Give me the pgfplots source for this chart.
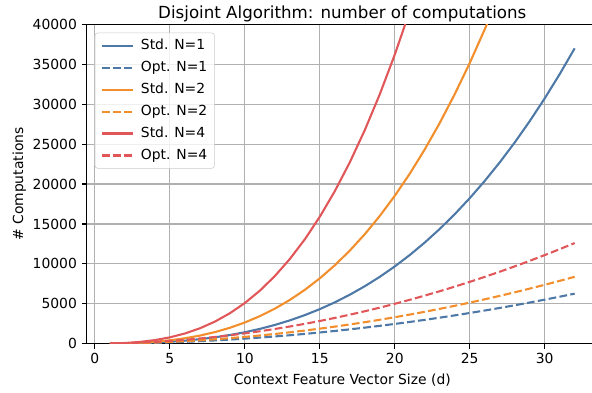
\documentclass[border=0pt]{standalone}
\usepackage{fontspec}
\setmainfont{DejaVu Sans}
\usepackage{pgfplots}
\pgfplotsset{compat=1.18}
\definecolor{tblue}{HTML}{4E79A7}
\definecolor{torange}{HTML}{F28E2B}
\definecolor{tred}{HTML}{E15759}
\definecolor{gridgray}{HTML}{B0B0B0}
\begin{document}
\begin{tikzpicture}
\begin{axis}[
  scale only axis,
  width=368.1pt, height=230pt,
  at={(0,0)}, anchor=south west,
  xmin=-0.55, xmax=33.55,
  ymin=0, ymax=40000,
  xtick={0,5,10,15,20,25,30},
  ytick={0,5000,10000,15000,20000,25000,30000,35000,40000},
  scaled y ticks=false,
  /pgf/number format/set thousands separator={},
  /pgf/number format/assume math mode=true,
  tick label style={font=\fontsize{10}{12}\selectfont},
  tick align=outside,
  major tick length=3.5pt,
  every tick/.style={black, line width=0.8pt},
  axis line style={line width=0.8pt},
  grid=major,
  major grid style={gridgray, line width=0.8pt},
  xtick pos=bottom, ytick pos=left,
  title={Disjoint Algorithm: number of computations},
  title style={font=\fontsize{12}{14}\selectfont, yshift=-8pt},
  xlabel={Context Feature Vector Size (d)},
  ylabel={\# Computations},
  label style={font=\fontsize{10}{12}\selectfont},
  ylabel style={yshift=-2pt},
  legend cell align=left,
  legend style={at={(axis cs:-0.55,40000)}, anchor=north west, xshift=5.8pt, yshift=-6pt,
    draw=black!20, rounded corners=2pt, fill=white, fill opacity=0.8, text opacity=1,
    font=\fontsize{10}{12}\selectfont,
    inner xsep=4.5pt, inner ysep=3.5pt,
    row sep=4.3pt,
    /tikz/every odd column/.append style={column sep=4.5pt},
    nodes={inner sep=0.6pt, text height=8pt, text depth=2.3pt}},
  legend image code/.code={\draw[#1] (0pt,0pt) -- (22pt,0pt);},
  every axis plot/.append style={line width=1.5pt},
  dashed/.style={dash pattern=on 5.55pt off 2.4pt},
]
\addplot[tblue] coordinates {(1,9)(2,32)(3,75)(4,144)(5,245)(6,384)(7,567)(8,800)(9,1089)(10,1440)(11,1859)(12,2352)(13,2925)(14,3584)(15,4335)(16,5184)(17,6137)(18,7200)(19,8379)(20,9680)(21,11109)(22,12672)(23,14375)(24,16224)(25,18225)(26,20384)(27,22707)(28,25200)(29,27869)(30,30720)(31,33759)(32,36992)};
\addlegendentry{Std. N=1}
\addplot[tblue, dashed] coordinates {(1,10)(2,32)(3,66)(4,112)(5,170)(6,240)(7,322)(8,416)(9,522)(10,640)(11,770)(12,912)(13,1066)(14,1232)(15,1410)(16,1600)(17,1802)(18,2016)(19,2242)(20,2480)(21,2730)(22,2992)(23,3266)(24,3552)(25,3850)(26,4160)(27,4482)(28,4816)(29,5162)(30,5520)(31,5890)(32,6272)};
\addlegendentry{Opt. N=1}
\addplot[torange] coordinates {(1,14)(2,52)(3,126)(4,248)(5,430)(6,684)(7,1022)(8,1456)(9,1998)(10,2660)(11,3454)(12,4392)(13,5486)(14,6748)(15,8190)(16,9824)(17,11662)(18,13716)(19,15998)(20,18520)(21,21294)(22,24332)(23,27646)(24,31248)(25,35150)(26,39364)(27,43902)(28,48776)(29,53998)(30,59580)(31,65534)(32,71872)};
\addlegendentry{Std. N=2}
\addplot[torange, dashed] coordinates {(1,14)(2,44)(3,90)(4,152)(5,230)(6,324)(7,434)(8,560)(9,702)(10,860)(11,1034)(12,1224)(13,1430)(14,1652)(15,1890)(16,2144)(17,2414)(18,2700)(19,3002)(20,3320)(21,3654)(22,4004)(23,4370)(24,4752)(25,5150)(26,5564)(27,5994)(28,6440)(29,6902)(30,7380)(31,7874)(32,8384)};
\addlegendentry{Opt. N=2}
\addplot[tred] coordinates {(1,24)(2,92)(3,228)(4,456)(5,800)(6,1284)(7,1932)(8,2768)(9,3816)(10,5100)(11,6644)(12,8472)(13,10608)(14,13076)(15,15900)(16,19104)(17,22712)(18,26748)(19,31236)(20,36200)(21,41664)(22,47652)(23,54188)(24,61296)};
\addlegendentry{Std. N=4}
\addplot[tred, dashed] coordinates {(1,22)(2,68)(3,138)(4,232)(5,350)(6,492)(7,658)(8,848)(9,1062)(10,1300)(11,1562)(12,1848)(13,2158)(14,2492)(15,2850)(16,3232)(17,3638)(18,4068)(19,4522)(20,5000)(21,5502)(22,6028)(23,6578)(24,7152)(25,7750)(26,8372)(27,9018)(28,9688)(29,10382)(30,11100)(31,11842)(32,12608)};
\addlegendentry{Opt. N=4}
\end{axis}
\pgfresetboundingbox
\path[use as bounding box] (-62.4pt,-35.46pt) rectangle (363.84pt,247.5pt);
\end{tikzpicture}
\end{document}
